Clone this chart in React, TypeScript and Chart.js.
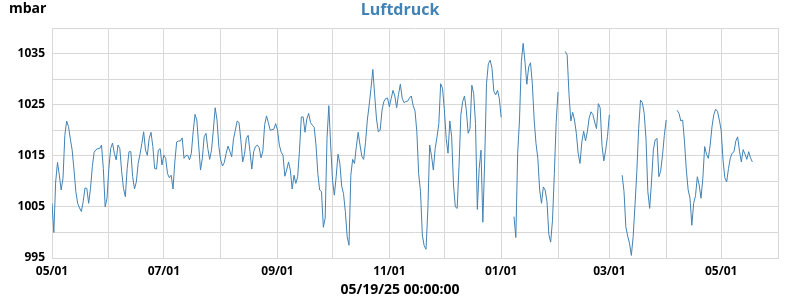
import React, { useEffect, useRef } from 'react';
import { Chart, registerables } from 'chart.js';

Chart.register(...registerables);

// Daily barometer readings (mbar), starting 2024-05-01; null = no data
const may24 = [1005.7, 1000.0, 1009.9, 1013.7, 1011.2, 1008.3, 1010.6, 1019.0, 1021.8, 1020.7, 1018.3, 1016.1, 1012.2, 1008.0, 1005.7, 1004.8, 1004.1, 1006.0, 1008.7, 1008.6, 1005.7, 1008.6, 1012.9, 1015.7, 1016.2, 1016.4, 1016.4, 1017.1, 1012.5, 1005.0, 1006.7];
const jun24 = [1012.5, 1016.4, 1017.5, 1015.5, 1014.2, 1017.1, 1016.4, 1011.9, 1008.6, 1007.0, 1012.5, 1015.8, 1015.8, 1010.9, 1008.5, 1009.9, 1013.5, 1015.3, 1017.4, 1019.7, 1016.1, 1015.1, 1018.4, 1019.6, 1016.8, 1012.5, 1012.4, 1016.1, 1016.4, 1013.2];
const jul24 = [1015.1, 1014.5, 1011.5, 1010.7, 1011.2, 1008.5, 1013.8, 1017.7, 1017.9, 1017.9, 1018.5, 1014.5, 1015.0, 1015.1, 1014.2, 1015.5, 1019.7, 1023.1, 1022.0, 1017.1, 1012.2, 1014.5, 1018.7, 1019.4, 1016.4, 1014.3, 1016.1, 1020.0, 1024.4, 1022.0, 1016.8];
const aug24 = [1014.2, 1013.0, 1013.7, 1015.5, 1016.9, 1015.9, 1014.8, 1018.3, 1020.0, 1021.8, 1021.5, 1018.1, 1013.8, 1015.3, 1018.4, 1019.0, 1015.8, 1012.4, 1015.8, 1016.8, 1017.1, 1016.6, 1014.6, 1015.9, 1021.1, 1022.8, 1021.5, 1020.0, 1020.1, 1020.2, 1021.3];
const sep24 = [1020.0, 1017.1, 1015.7, 1015.1, 1011.0, 1012.2, 1013.8, 1012.2, 1008.5, 1011.2, 1009.6, 1010.9, 1016.1, 1022.6, 1022.6, 1019.6, 1022.2, 1023.3, 1021.5, 1021.0, 1020.6, 1017.1, 1011.5, 1008.3, 1008.0, 1001.0, 1002.8, 1018.4, 1024.8, 1017.1];
const oct24 = [1010.2, 1007.3, 1010.9, 1015.3, 1013.5, 1009.1, 1007.6, 1004.1, 999.2, 997.5, 1011.2, 1014.3, 1013.5, 1016.8, 1019.6, 1017.1, 1014.9, 1014.3, 1017.6, 1022.0, 1024.9, 1028.2, 1031.9, 1026.9, 1022.2, 1019.7, 1020.0, 1023.9, 1025.6, 1026.2, 1026.3];
const nov24 = [1024.6, 1026.2, 1027.8, 1026.7, 1024.4, 1027.0, 1029.0, 1026.3, 1025.4, 1025.6, 1025.7, 1026.3, 1026.7, 1024.8, 1023.8, 1019.7, 1011.5, 1008.0, 999.5, 997.4, 996.7, 1004.4, 1017.1, 1015.0, 1012.2, 1016.4, 1018.7, 1021.3, 1029.1, 1028.2];
const dec24 = [1024.1, 1018.4, 1015.5, 1021.8, 1018.7, 1009.3, 1005.0, 1004.7, 1012.9, 1023.0, 1025.6, 1026.7, 1023.9, 1019.4, 1020.3, 1028.8, 1027.2, 1021.3, 1004.5, 1012.5, 1016.1, 1002.0, 1013.8, 1029.1, 1033.0, 1033.7, 1032.1, 1027.6, 1026.9, 1027.8, 1026.2];
const jan25 = [1022.5, null, null, null, null, null, null, 1003.1, 999.0, 1015.5, 1022.0, 1033.4, 1037.0, 1033.3, 1029.0, 1032.4, 1033.2, 1029.1, 1022.0, 1017.4, 1014.5, 1008.3, 1005.7, 1008.9, 1008.3, 1006.0, 999.6, 998.1, 1002.4, 1011.5, 1021.5];
const feb25 = [1027.5, null, null, null, 1035.4, 1034.7, 1027.0, 1021.8, 1023.5, 1022.0, 1019.4, 1015.5, 1013.5, 1017.7, 1019.8, 1017.9, 1019.7, 1022.4, 1023.6, 1023.1, 1021.6, 1020.3, 1025.2, 1024.4, 1017.0, 1014.0, 1016.1, 1018.8];
const mar25 = [1023.0, null, null, null, null, null, null, 1011.2, 1008.0, 1001.1, 999.3, 997.9, 995.5, 999.2, 1005.4, 1011.9, 1020.3, 1025.9, 1025.4, 1023.3, 1018.3, 1008.0, 1004.7, 1009.9, 1016.1, 1018.1, 1018.4, 1010.9, 1012.0, 1015.1, 1019.0];
const apr25 = [1022.0, null, null, null, null, null, 1023.9, 1023.3, 1021.8, 1022.0, 1017.7, 1012.2, 1008.3, 1006.7, 1001.4, 1005.7, 1007.2, 1010.9, 1009.3, 1006.7, 1010.6, 1016.8, 1015.3, 1014.5, 1017.1, 1020.7, 1023.1, 1024.1, 1023.7, 1022.0];
const may25 = [1020.0, 1014.2, 1010.7, 1009.9, 1012.5, 1014.6, 1015.5, 1015.8, 1017.9, 1018.7, 1015.9, 1013.8, 1016.2, 1015.3, 1014.3, 1015.8, 1014.6, 1013.8];

const pressure: (number | null)[] = [
  ...may24, ...jun24, ...jul24, ...aug24, ...sep24, ...oct24, ...nov24,
  ...dec24, ...jan25, ...feb25, ...mar25, ...apr25, ...may25,
];

const START_YEAR = 2024;
const START_MONTH = 4; // May (0-based)
const AXIS_MONTHS = 13; // axis runs 05/01/24 .. 06/01/25

const TITLE = 'Luftdruck';
const UNIT_LABEL = 'mbar';
const X_TITLE = '05/19/25 00:00:00';

const Y_MIN = 995;
const Y_MAX = 1040;
const Y_STEP = 5;
const Y_LABEL_STEP = 10;

const FONT = "'Open Sans', 'DejaVu Sans', sans-serif";
const BLUE = '#4282b4';
const GRID = '#d8d8d8';

const DAY_MS = 86400000;
const t0 = Date.UTC(START_YEAR, START_MONTH, 1);

const monthTicks = Array.from({ length: AXIS_MONTHS + 1 }, (_, i) => {
  const t = Date.UTC(START_YEAR, START_MONTH + i, 1);
  const d = new Date(t);
  const mm = String(d.getUTCMonth() + 1).padStart(2, '0');
  const dd = String(d.getUTCDate()).padStart(2, '0');
  return { day: Math.round((t - t0) / DAY_MS), label: i % 2 === 0 && i < AXIS_MONTHS ? `${mm}/${dd}` : '' };
});

const textPlugin = {
  id: 'wxTexts',
  afterDraw(chart: any) {
    const ctx = chart.ctx as CanvasRenderingContext2D;
    ctx.save();
    ctx.textBaseline = 'alphabetic';
    ctx.fillStyle = BLUE;
    ctx.font = `bold 16px ${FONT}`;
    ctx.textAlign = 'center';
    ctx.fillText(TITLE, chart.width / 2, 15);
    ctx.fillStyle = '#000';
    ctx.font = `bold 14px ${FONT}`;
    ctx.textAlign = 'left';
    ctx.fillText(UNIT_LABEL, 9, 13);
    ctx.font = `bold 14px ${FONT}`;
    ctx.textAlign = 'center';
    ctx.fillText(X_TITLE, chart.width / 2, 294);
    ctx.restore();
  },
};

export default function App() {
  const ref = useRef<HTMLCanvasElement | null>(null);

  useEffect(() => {
    document.body.style.margin = '0';
    const canvas = ref.current;
    if (!canvas) return;
    const data = pressure.map((v, i) => ({ x: i, y: v }));
    const chart = new Chart(canvas, {
      type: 'line',
      data: {
        datasets: [
          {
            label: TITLE,
            data: data as any,
            borderColor: BLUE,
            borderWidth: 1,
            pointRadius: 0,
            tension: 0,
            spanGaps: false,
            fill: false,
          },
        ],
      },
      plugins: [textPlugin],
      options: {
        animation: false,
        responsive: false,
        devicePixelRatio: 1,
        layout: { padding: { top: 28, right: 22, bottom: 0, left: 0 } },
        plugins: { legend: { display: false }, tooltip: { enabled: false }, title: { display: false } },
        scales: {
          x: {
            type: 'linear',
            min: monthTicks[0].day,
            max: monthTicks[monthTicks.length - 1].day,
            afterBuildTicks: (scale: any) => {
              scale.ticks = monthTicks.map((m) => ({ value: m.day }));
            },
            afterFit: (scale: any) => {
              scale.height = 42;
              scale.paddingLeft = 0;
              scale.paddingRight = 0;
            },
            grid: { color: GRID, lineWidth: 1, drawTicks: false },
            border: { color: GRID },
            ticks: {
              autoSkip: false,
              maxRotation: 0,
              padding: 6,
              color: '#000',
              font: { family: FONT, size: 12, weight: 'bold' },
              callback: (v: any) => {
                const m = monthTicks.find((t) => t.day === v);
                return m ? m.label : '';
              },
            },
          },
          y: {
            min: Y_MIN,
            max: Y_MAX,
            afterFit: (scale: any) => {
              scale.width = 52;
              scale.paddingTop = 0;
              scale.paddingBottom = 0;
            },
            grid: { color: GRID, lineWidth: 1, drawTicks: false },
            border: { color: GRID },
            ticks: {
              stepSize: Y_STEP,
              padding: 7,
              color: '#000',
              font: { family: FONT, size: 12, weight: 'bold' },
              callback: (v: any) => ((v - Y_MIN) % Y_LABEL_STEP === 0 && v < Y_MAX ? String(v) : ''),
            },
          },
        },
      },
    });
    return () => chart.destroy();
  }, []);

  return (
    <div style={{ width: 800, height: 300 }}>
      <canvas ref={ref} width={800} height={300} />
    </div>
  );
}
